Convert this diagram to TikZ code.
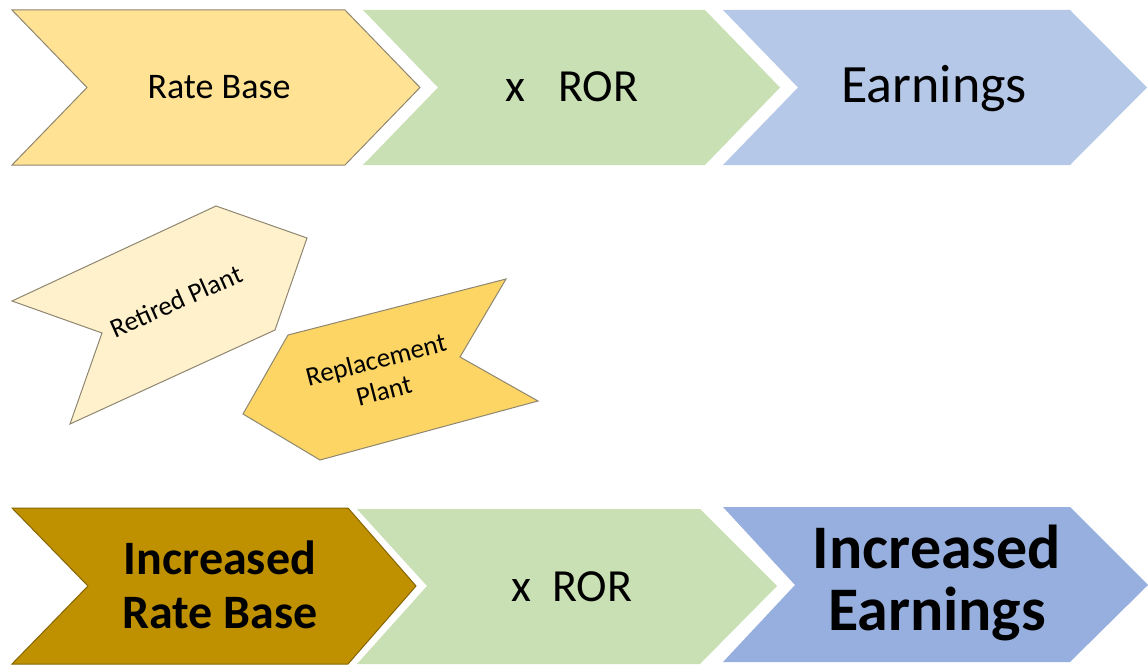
\documentclass[tikz,border=0pt]{standalone}
\usepackage{fontspec}
\setmainfont{Carlito}
\definecolor{ygold}{HTML}{FFE294}
\definecolor{ggreen}{HTML}{C9E0B5}
\definecolor{bblue}{HTML}{B5C8E7}
\definecolor{bblue2}{HTML}{97AFDF}
\definecolor{dgold}{HTML}{BF9000}
\definecolor{pale}{HTML}{FFF1CC}
\definecolor{mgold}{HTML}{FDD565}
\definecolor{edgec}{HTML}{8E8670}
\begin{document}
\begin{tikzpicture}[x=1pt,y=-1pt,
  edged/.style={draw=edgec,line width=1pt,line join=miter},
  lbl/.style={inner sep=0pt,align=center,text=black}]
\useasboundingbox (0,0) rectangle (1148,666);
% ---- top row ----
\filldraw[fill=ygold,edged] (12,10) -- (345,10) -- (420,87.5) -- (345,165) -- (12,165) -- (87,87.5) -- cycle;
\fill[ggreen] (363,10) -- (705,10) -- (780,87.5) -- (705,165) -- (363,165) -- (438,87.5) -- cycle;
\fill[bblue] (723,10) -- (1070,10) -- (1147,87.5) -- (1070,165) -- (723,165) -- (798,87.5) -- cycle;
\node[lbl,font=\fontsize{36}{40}\selectfont] (rb) at (219,87) {Rate Base};
\node[lbl,font=\fontsize{46}{50}\selectfont] (ror) at (572,87) {x\hspace{0.7em}ROR};
\node[lbl,font=\fontsize{54}{58}\selectfont] (earn) at (934,89) {Earnings};
% ---- middle shapes ----
\filldraw[fill=pale,edged] (12,301) -- (216,206) -- (307,238) -- (275,330) -- (70,424) -- (102,333) -- cycle;
\node[lbl,rotate=24,font=\fontsize{27}{30}\selectfont] (ret) at (176,301) {Retired Plant};
\filldraw[fill=mgold,edged] (506,279) -- (460,357) -- (538,401) -- (320,460) -- (243,414) -- (288,335) -- cycle;
\node[lbl,rotate=14.5,font=\fontsize{27}{32}\selectfont] (rep) at (380,375) {Replacement\\Plant};
% ---- bottom row ----
\filldraw[fill=dgold,draw=dgold!70!black,line width=1pt] (12,508) -- (348,508) -- (416,586) -- (348,664) -- (12,664) -- (88,586) -- cycle;
\fill[ggreen] (357,509) -- (700,509) -- (777,586) -- (700,664) -- (357,664) -- (427,586) -- cycle;
\fill[bblue2] (723,507) -- (1070,507) -- (1148,585) -- (1070,662) -- (723,662) -- (795,585) -- cycle;
\node[lbl,font=\fontsize{48}{54}\selectfont\bfseries] (irb) at (220,585) {Increased\\Rate Base};
\node[lbl,font=\fontsize{46}{50}\selectfont] (ror2) at (572,587) {x\hspace{0.45em}ROR};
\node[lbl,font=\fontsize{62}{62}\selectfont\bfseries] (ie) at (937,583) {Increased\\Earnings};
\end{tikzpicture}
\end{document}
